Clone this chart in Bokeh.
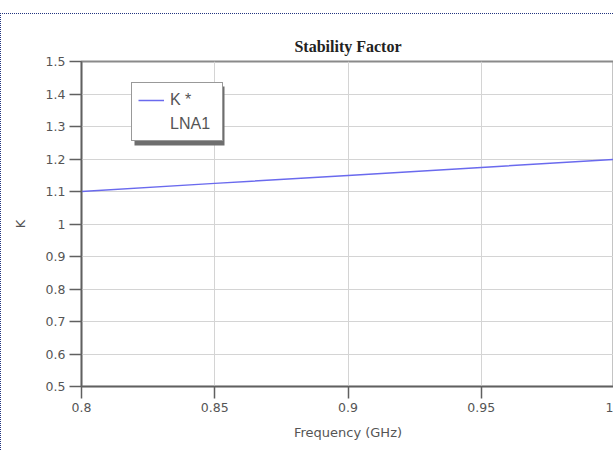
from bokeh.plotting import figure
from bokeh.models import Legend, LegendItem, FixedTicker, Range1d, BoxAnnotation
from bokeh.embed import file_html
from bokeh.resources import INLINE

# ---- data ----
freq_ghz = [0.80, 0.85, 0.90, 0.95, 1.00]
k_lna1 = [1.100, 1.125, 1.149, 1.174, 1.199]
x_ticks = [0.8, 0.85, 0.9, 0.95, 1.0]
x_tick_labels = ["0.8", "0.85", "0.9", "0.95", "1"]
y_ticks = [0.5, 0.6, 0.7, 0.8, 0.9, 1.0, 1.1, 1.2, 1.3, 1.4, 1.5]
y_tick_labels = ["0.5", "0.6", "0.7", "0.8", "0.9", "1", "1.1", "1.2", "1.3", "1.4", "1.5"]
series_name = "K *"
series_name2 = "LNA1"

p = figure(width=613, height=437, output_backend="svg", toolbar_location=None,
           x_range=Range1d(0.8, 1.0), y_range=Range1d(0.5, 1.5),
           min_border_left=80, min_border_right=0, min_border_top=47, min_border_bottom=65,
           title="Stability Factor")
p.styles = {"border-top": "1px dotted #22347f", "border-left": "1px dotted #22347f",
            "margin-top": "13px"}

p.title.align = "center"
p.title.text_font = "Liberation Serif"
p.title.text_font_size = "16px"
p.title.text_font_style = "bold"
p.title.text_color = "#222222"
p.title.standoff = 13

p.background_fill_color = "white"
p.border_fill_color = "white"
p.outline_line_color = "#8a8a8a"
p.outline_line_width = 2

p.xaxis.ticker = FixedTicker(ticks=x_ticks)
p.yaxis.ticker = FixedTicker(ticks=y_ticks)
p.xaxis.major_label_overrides = {t: l for t, l in zip(x_ticks, x_tick_labels)}
p.yaxis.major_label_overrides = {t: l for t, l in zip(y_ticks, y_tick_labels)}

for ax in (p.xaxis, p.yaxis):
    ax.axis_line_color = "#606060"
    ax.axis_line_width = 1.5
    ax.major_tick_line_color = "#606060"
    ax.major_tick_line_width = 1.5
    ax.minor_tick_line_color = None
    ax.major_tick_in = 0
    ax.major_tick_out = 12
    ax.major_label_text_font = "DejaVu Sans"
    ax.major_label_text_font_size = "12.5px"
    ax.major_label_text_color = "#555555"
    ax.axis_label_text_font = "DejaVu Sans"
    ax.axis_label_text_font_size = "13px"
    ax.axis_label_text_font_style = "normal"
    ax.axis_label_text_color = "#555555"

p.xaxis.major_label_standoff = 4
p.yaxis.major_label_standoff = 4
p.xaxis.axis_label = "Frequency (GHz)"
p.yaxis.axis_label = "K"
p.xaxis.axis_label_standoff = 10
p.yaxis.axis_label_standoff = 15

p.grid.grid_line_color = "#d4d4d4"
p.grid.grid_line_width = 1

shadow = BoxAnnotation(left=53, right=143, top=300, bottom=241,
                       left_units="screen", right_units="screen",
                       top_units="screen", bottom_units="screen",
                       fill_color="#6e6e6e", fill_alpha=1, line_color=None)
p.add_layout(shadow)

line = p.line(freq_ghz, k_lna1, line_color="#6a6aee", line_width=1.5)
dummy = p.line(freq_ghz, k_lna1, line_alpha=0)

legend = Legend(items=[LegendItem(label=series_name, renderers=[line]),
                       LegendItem(label=series_name2, renderers=[dummy])],
                location=(50, 245))
legend.border_line_color = "#333333"
legend.border_line_width = 1.5
legend.background_fill_alpha = 1
legend.label_text_font = "Liberation Sans"
legend.label_text_font_size = "16px"
legend.label_text_color = "#555555"
legend.glyph_width = 26
legend.label_standoff = 6
legend.label_height = 21
legend.label_width = 46
legend.spacing = 3
legend.padding = 6
legend.margin = 0
p.add_layout(legend, "center")

open("out.html", "w").write(file_html(p, INLINE))
